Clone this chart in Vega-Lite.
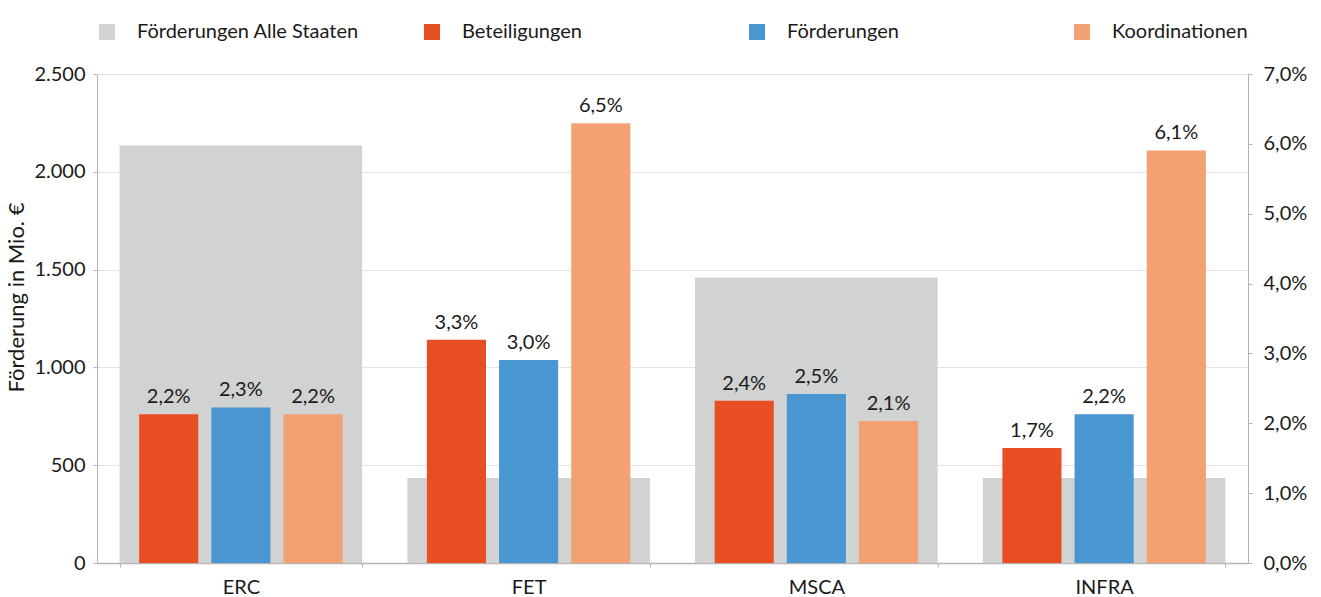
{
  "$schema": "https://vega.github.io/schema/vega-lite/v6.json",
  "width": 1151,
  "height": 489,
  "autosize": {"type": "none"},
  "padding": {"left": 97, "top": 74, "right": 73, "bottom": 34},
  "background": "white",
  "config": {
    "locale": {"number": {"decimal": ",", "thousands": ".", "grouping": [3], "currency": ["", " €"]}},
    "font": "Lato",
    "view": {"stroke": null},
    "axis": {"labelFont": "Lato", "titleFont": "Lato", "labelColor": "#1a1a1a", "titleColor": "#1a1a1a", "labelFontSize": 20, "titleFontSize": 20, "titleFontWeight": "normal", "domainColor": "#b5b5b5", "tickColor": "#b5b5b5", "tickSize": 4, "gridColor": "#e3e3e3"},
    "legend": {"labelFont": "Lato", "labelFontSize": 20, "labelColor": "#1a1a1a"}
  },
  "datasets": {
    "gesamt": [
      {"cat": "ERC", "serie": "Förderungen Alle Staaten", "mio": 2135},
      {"cat": "FET", "serie": "Förderungen Alle Staaten", "mio": 435},
      {"cat": "MSCA", "serie": "Förderungen Alle Staaten", "mio": 1460},
      {"cat": "INFRA", "serie": "Förderungen Alle Staaten", "mio": 435}
    ],
    "anteile": [
      {"cat": "ERC", "serie": "Beteiligungen", "pct": 0.022},
      {"cat": "ERC", "serie": "Förderungen", "pct": 0.023},
      {"cat": "ERC", "serie": "Koordinationen", "pct": 0.022},
      {"cat": "FET", "serie": "Beteiligungen", "pct": 0.033},
      {"cat": "FET", "serie": "Förderungen", "pct": 0.030},
      {"cat": "FET", "serie": "Koordinationen", "pct": 0.065},
      {"cat": "MSCA", "serie": "Beteiligungen", "pct": 0.024},
      {"cat": "MSCA", "serie": "Förderungen", "pct": 0.025},
      {"cat": "MSCA", "serie": "Koordinationen", "pct": 0.021},
      {"cat": "INFRA", "serie": "Beteiligungen", "pct": 0.017},
      {"cat": "INFRA", "serie": "Förderungen", "pct": 0.022},
      {"cat": "INFRA", "serie": "Koordinationen", "pct": 0.061}
    ]
  },
  "resolve": {"scale": {"y": "independent"}},
  "layer": [
    {
      "data": {"name": "gesamt"},
      "mark": {"type": "bar"},
      "encoding": {
        "x": {"field": "cat", "type": "nominal", "sort": ["ERC", "FET", "MSCA", "INFRA"],
              "scale": {"paddingInner": 0.157, "paddingOuter": 0.0785},
              "axis": {"title": null, "labelAngle": 0, "tickBand": "extent", "labelPadding": 10, "domainWidth": 1.5}},
        "y": {"field": "mio", "type": "quantitative", "scale": {"domain": [0, 2500], "nice": false},
              "axis": {"orient": "left", "title": "Förderung in Mio. €", "titleFontSize": 22, "titleY": 223, "format": ",.0f", "values": [0, 500, 1000, 1500, 2000, 2500], "grid": true, "labelPadding": 8, "titlePadding": 5}},
        "color": {"field": "serie", "type": "nominal",
                  "scale": {"domain": ["Förderungen Alle Staaten", "Beteiligungen", "Förderungen", "Koordinationen"], "range": ["#d1d2d2", "#e84e23", "#4996d1", "#f2a272"]},
                  "legend": {"title": null, "orient": "none", "legendX": 0, "legendY": -52, "direction": "horizontal", "columns": 4, "gridAlign": "all", "columnPadding": 63, "symbolType": "square", "symbolSize": 256, "symbolStrokeWidth": 0, "labelOffset": 20, "labelLimit": 400, "padding": 0}}
      }
    },
    {
      "data": {"name": "anteile"},
      "mark": {"type": "bar"},
      "encoding": {
        "x": {"field": "cat", "type": "nominal", "sort": ["ERC", "FET", "MSCA", "INFRA"]},
        "xOffset": {"field": "serie", "type": "nominal", "sort": ["Beteiligungen", "Förderungen", "Koordinationen"], "scale": {"paddingInner": 0.181, "paddingOuter": 0.271}},
        "y": {"field": "pct", "type": "quantitative", "scale": {"domain": [0, 0.0723], "nice": false}, "axis": null},
        "color": {"field": "serie", "type": "nominal"}
      }
    },
    {
      "data": {"name": "anteile"},
      "mark": {"type": "text", "baseline": "alphabetic", "dy": -11, "fontSize": 20, "color": "#1a1a1a", "font": "Lato"},
      "encoding": {
        "x": {"field": "cat", "type": "nominal", "sort": ["ERC", "FET", "MSCA", "INFRA"]},
        "xOffset": {"field": "serie", "type": "nominal", "sort": ["Beteiligungen", "Förderungen", "Koordinationen"]},
        "y": {"field": "pct", "type": "quantitative", "scale": {"domain": [0, 0.0723], "nice": false}, "axis": null},
        "text": {"field": "pct", "type": "quantitative", "format": ".1%"}
      }
    },
    {
      "data": {"name": "anteile"},
      "mark": {"type": "point", "opacity": 0},
      "encoding": {
        "y": {"field": "pct", "type": "quantitative", "scale": {"domain": [0, 0.07], "nice": false},
              "axis": {"orient": "right", "title": null, "format": ".1%", "values": [0, 0.01, 0.02, 0.03, 0.04, 0.05, 0.06, 0.07], "grid": false, "labelPadding": 11}}
      }
    }
  ]
}
